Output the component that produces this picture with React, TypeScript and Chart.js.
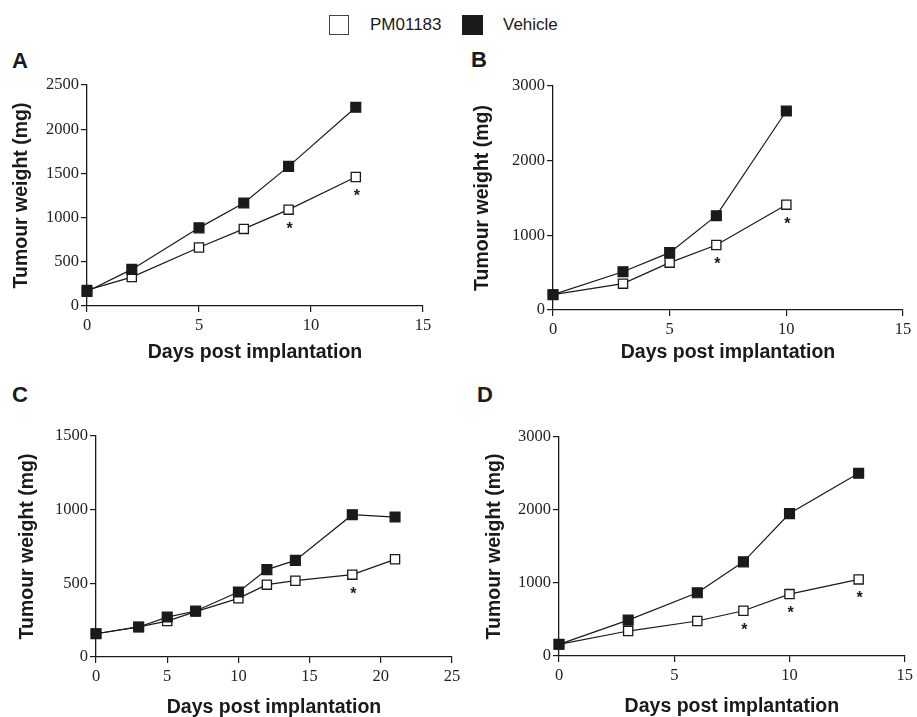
import React, { useEffect, useRef } from "react";
import { Chart, registerables } from "chart.js";

Chart.register(...registerables);

const seriesNames = ["PM01183", "Vehicle"];
const xTitle = "Days post implantation";
const yTitle = "Tumour weight (mg)";

// Panel A
const daysA = [0, 2, 5, 7, 9, 12];
const pmA = [180, 327, 662, 872, 1090, 1459];
const vehA = [165, 414, 884, 1166, 1579, 2248];
const starsA = [9, 12];
const yMaxA = 2500;
const yStepA = 500;
const xMaxA = 15;

// Panel B
const daysB = [0, 3, 5, 7, 10];
const pmB = [205, 353, 634, 870, 1411];
const vehB = [205, 513, 768, 1263, 2665];
const starsB = [7, 10];
const yMaxB = 3000;
const yStepB = 1000;
const xMaxB = 15;

// Panel C
const daysC = [0, 3, 5, 7, 10, 12, 14, 18, 21];
const pmC = [158, 204, 244, 308, 398, 491, 518, 559, 663];
const vehC = [158, 204, 271, 312, 441, 593, 656, 966, 950];
const starsC = [18];
const yMaxC = 1500;
const yStepC = 500;
const xMaxC = 25;

// Panel D
const daysD = [0, 3, 6, 8, 10, 13];
const pmD = [160, 342, 479, 620, 848, 1049];
const vehD = [160, 492, 866, 1290, 1951, 2503];
const starsD = [8, 10, 13];
const yMaxD = 3000;
const yStepD = 1000;
const xMaxD = 15;

const SANS = '"Liberation Sans", Arial, Helvetica, sans-serif';
const SERIF = '"Liberation Serif", "Times New Roman", serif';
const INK = "#1a1a1a";
const TITLE_SIZE = 19.5;

type Rect = { x: number; y: number; w: number; h: number };
type Area = { L: number; T: number; R: number; B: number };

interface PanelProps {
  canvas: Rect;
  area: Area;
  yTitleX: number;
  xTitleY: number;
  days: number[];
  pm: number[];
  veh: number[];
  stars: number[];
  yMax: number;
  yStep: number;
  xMax: number;
}

function Panel(p: PanelProps) {
  const ref = useRef<HTMLCanvasElement | null>(null);
  useEffect(() => {
    if (!ref.current) return;
    const { canvas, area } = p;
    const lh = TITLE_SIZE * 1.2;
    const yScaleW = area.L - canvas.x;
    const xScaleH = canvas.y + canvas.h - area.B;
    const topPad = area.T - canvas.y;
    const rightPad = canvas.x + canvas.w - area.R;
    const yTitlePad = p.yTitleX - canvas.x - lh / 2;
    const xTitlePad = canvas.y + canvas.h - p.xTitleY - lh / 2;

    const starPlugin = {
      id: "stars",
      afterDatasetsDraw(chart: any) {
        const { ctx, scales } = chart;
        const xs = scales.x;
        const ys = scales.y;
        ctx.save();
        ctx.font = `bold 16px ${SANS}`;
        ctx.fillStyle = INK;
        ctx.textAlign = "center";
        ctx.textBaseline = "alphabetic";
        p.stars.forEach((d) => {
          const i = p.days.indexOf(d);
          if (i < 0) return;
          const px = xs.getPixelForValue(d);
          const py = ys.getPixelForValue(p.pm[i]);
          ctx.fillText("*", px + 1, py + 24);
        });
        ctx.restore();
      },
    };

    const tickFont = { family: SERIF, size: 16.5 };
    const titleFont = { family: SANS, size: TITLE_SIZE, weight: "bold" as const, lineHeight: 1.2 };
    const plain = (v: any) => String(v);

    const chart = new Chart(ref.current, {
      type: "line",
      data: {
        datasets: [
          {
            label: seriesNames[1],
            data: p.days.map((d, i) => ({ x: d, y: p.veh[i] })),
            borderColor: INK,
            borderWidth: 1.2,
            backgroundColor: INK,
            pointStyle: "rect",
            pointRadius: 7,
            pointBorderColor: INK,
            pointBackgroundColor: INK,
            pointBorderWidth: 1.2,
            tension: 0,
            clip: false as any,
          },
          {
            label: seriesNames[0],
            data: p.days.map((d, i) => ({ x: d, y: p.pm[i] })),
            borderColor: INK,
            borderWidth: 1.2,
            backgroundColor: "#ffffff",
            pointStyle: "rect",
            pointRadius: 6.5,
            pointBorderColor: INK,
            pointBackgroundColor: "#ffffff",
            pointBorderWidth: 1.3,
            tension: 0,
            clip: false as any,
          },
        ],
      },
      options: {
        animation: false,
        responsive: false,
        maintainAspectRatio: false,
        devicePixelRatio: 1,
        layout: { padding: { left: 0, top: topPad, right: rightPad, bottom: 0 } },
        plugins: { legend: { display: false }, tooltip: { enabled: false } },
        scales: {
          x: {
            type: "linear",
            min: 0,
            max: p.xMax,
            ticks: { stepSize: 5, font: tickFont, color: "#222", padding: 4, maxRotation: 0, callback: plain },
            grid: { display: true, drawOnChartArea: false, drawTicks: true, tickLength: 6, color: INK, lineWidth: 1.2 },
            border: { display: true, color: INK, width: 1.3 },
            title: { display: true, text: xTitle, font: titleFont, color: INK, padding: { top: 0, bottom: xTitlePad } },
            afterFit: (s: any) => {
              s.height = xScaleH;
            },
          },
          y: {
            type: "linear",
            min: 0,
            max: p.yMax,
            ticks: { stepSize: p.yStep, font: tickFont, color: "#222", padding: 2, callback: plain },
            grid: { display: true, drawOnChartArea: false, drawTicks: true, tickLength: 6, color: INK, lineWidth: 1.2 },
            border: { display: true, color: INK, width: 1.3 },
            title: { display: true, text: yTitle, font: titleFont, color: INK, padding: { top: yTitlePad, bottom: 0 } },
            afterFit: (s: any) => {
              s.width = yScaleW;
            },
          },
        },
      },
      plugins: [starPlugin],
    });
    return () => chart.destroy();
  }, []);
  const { canvas } = p;
  return (
    <canvas
      ref={ref}
      width={canvas.w}
      height={canvas.h}
      style={{ position: "absolute", left: canvas.x, top: canvas.y, width: canvas.w, height: canvas.h }}
    />
  );
}

const letterStyle: React.CSSProperties = {
  position: "absolute",
  fontFamily: SANS,
  fontWeight: "bold",
  fontSize: 22,
  lineHeight: "22px",
  color: INK,
};

export default function App() {
  return (
    <div style={{ position: "absolute", left: 0, top: 0, width: 917, height: 717, background: "#fff", overflow: "hidden" }}>
      {/* legend */}
      <div style={{ position: "absolute", left: 329, top: 15, width: 18, height: 18, border: "1.5px solid #444", background: "#fff" }} />
      <div style={{ position: "absolute", left: 370, top: 15, height: 20, lineHeight: "20px", fontFamily: SANS, fontSize: 17, color: INK }}>
        {seriesNames[0]}
      </div>
      <div style={{ position: "absolute", left: 462, top: 15, width: 21, height: 20, background: INK }} />
      <div style={{ position: "absolute", left: 503, top: 15, height: 20, lineHeight: "20px", fontFamily: SANS, fontSize: 17, color: INK }}>
        {seriesNames[1]}
      </div>

      <div style={{ ...letterStyle, left: 12, top: 50 }}>A</div>
      <div style={{ ...letterStyle, left: 471, top: 49 }}>B</div>
      <div style={{ ...letterStyle, left: 12, top: 384 }}>C</div>
      <div style={{ ...letterStyle, left: 477, top: 384 }}>D</div>

      <Panel
        canvas={{ x: 0, y: 40, w: 458, h: 330 }}
        area={{ L: 87, T: 85, R: 423, B: 306 }}
        yTitleX={22}
        xTitleY={353}
        days={daysA}
        pm={pmA}
        veh={vehA}
        stars={starsA}
        yMax={yMaxA}
        yStep={yStepA}
        xMax={xMaxA}
      />
      <Panel
        canvas={{ x: 466, y: 40, w: 451, h: 330 }}
        area={{ L: 553, T: 86, R: 903, B: 310 }}
        yTitleX={483}
        xTitleY={353}
        days={daysB}
        pm={pmB}
        veh={vehB}
        stars={starsB}
        yMax={yMaxB}
        yStep={yStepB}
        xMax={xMaxB}
      />
      <Panel
        canvas={{ x: 9, y: 405, w: 460, h: 312 }}
        area={{ L: 96, T: 436, R: 452, B: 657 }}
        yTitleX={28}
        xTitleY={708}
        days={daysC}
        pm={pmC}
        veh={vehC}
        stars={starsC}
        yMax={yMaxC}
        yStep={yStepC}
        xMax={xMaxC}
      />
      <Panel
        canvas={{ x: 472, y: 405, w: 445, h: 312 }}
        area={{ L: 559, T: 437, R: 907, B: 656 }}
        yTitleX={495}
        xTitleY={707}
        days={daysD}
        pm={pmD}
        veh={vehD}
        stars={starsD}
        yMax={yMaxD}
        yStep={yStepD}
        xMax={xMaxD}
      />
    </div>
  );
}
